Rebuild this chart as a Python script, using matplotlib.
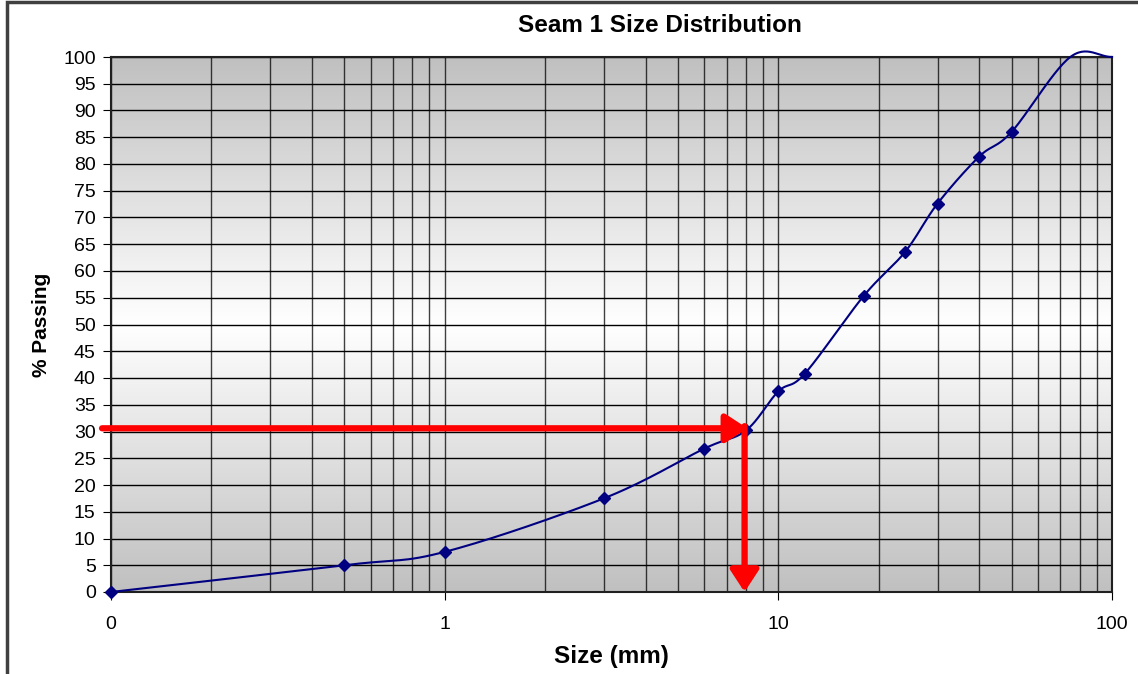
import numpy as np
import matplotlib
matplotlib.use("Agg")
import matplotlib.pyplot as plt
from matplotlib.patches import Rectangle

plt.rcParams['font.family'] = ['Liberation Sans', 'DejaVu Sans']

# Seam 1 size distribution
size_mm = [0.1, 0.5, 1, 3, 6, 8, 10, 12, 18, 24, 30, 40, 50]
passing = [0, 5, 7.5, 17.5, 26.8, 30.2, 37.5, 40.8, 55.3, 63.6, 72.6, 81.4, 86]
# tail of the curve, drawn without markers
tail_size = [75, 100]
tail_pass = [100, 100]

x_ticks = [0.1, 1, 10, 100]
x_ticklabels = ["0", "1", "10", "100"]
y_ticks = list(range(0, 101, 5))

# read-off point (red arrows)
d30_size = 8.0
d30_pass = 30.6

navy = "#000080"


def smooth(xs, ys, n=30):
    # Excel-style smoothed line (Catmull-Rom in log-x space)
    lx = np.log10(xs)
    ly = np.array(ys, dtype=float)
    px = np.concatenate([[2 * lx[0] - lx[1]], lx, [2 * lx[-1] - lx[-2]]])
    py = np.concatenate([[2 * ly[0] - ly[1]], ly, [2 * ly[-1] - ly[-2]]])
    outx, outy = [], []
    for i in range(1, len(px) - 2):
        t = np.linspace(0, 1, n)
        for arr, out in ((px, outx), (py, outy)):
            p0, p1, p2, p3 = arr[i - 1], arr[i], arr[i + 1], arr[i + 2]
            out.extend(0.5 * ((2 * p1) + (-p0 + p2) * t +
                              (2 * p0 - 5 * p1 + 4 * p2 - p3) * t ** 2 +
                              (-p0 + 3 * p1 - 3 * p2 + p3) * t ** 3))
    return 10 ** np.array(outx), np.array(outy)


fig = plt.figure(figsize=(11.38, 6.74), dpi=100)
rect = [111 / 1138, 1 - 592 / 674, (1112 - 111) / 1138, (592 - 57) / 674]

# gray-white-gray gradient background on its own linear axes
ax_bg = fig.add_axes(rect, zorder=0)
t = np.linspace(0, 1, 256)
shade = 0.753 + (1 - 0.753) * (1 - np.abs(2 * t - 1))
col = np.repeat(shade[:, None], 2, axis=1)
grad = np.dstack([col, col, col])
ax_bg.imshow(grad, extent=[0, 1, 0, 1], aspect="auto", interpolation="bilinear")
ax_bg.set_axis_off()

ax = fig.add_axes(rect, zorder=1)
ax.patch.set_visible(False)

ax.set_xscale("log")
ax.set_xlim(0.1, 100)
ax.set_ylim(0, 100)

ax.set_xticks(x_ticks)
ax.set_xticklabels(x_ticklabels)
ax.xaxis.set_minor_locator(matplotlib.ticker.LogLocator(subs=np.arange(2, 10)))
ax.xaxis.set_minor_formatter(matplotlib.ticker.NullFormatter())
ax.set_yticks(y_ticks)

ax.grid(True, which="both", axis="x", color="black", lw=1.0, alpha=0.75)
ax.grid(True, which="major", axis="y", color="black", lw=1.0)
ax.set_axisbelow(True)

ax.tick_params(axis="x", which="major", direction="out", length=6, pad=11, labelsize=14)
ax.tick_params(axis="x", which="minor", length=0)
ax.tick_params(axis="y", direction="out", length=6, pad=5, labelsize=14)
for sp in ax.spines.values():
    sp.set_color("#202020")
    sp.set_linewidth(1.5)

cx, cy = smooth(size_mm + tail_size, passing + tail_pass)
ax.plot(cx, cy, color=navy, lw=1.5, zorder=3, clip_on=False)
ax.plot(size_mm, passing, ls="none", marker="D", ms=6, color=navy, zorder=4,
        clip_on=False)

# red arrows
arrow = dict(arrowstyle="-|>,head_length=1.3,head_width=0.85", color="red", lw=4.5,
             shrinkA=0, shrinkB=0)
ax.annotate("", xy=(d30_size * 1.01, d30_pass), xytext=(0.094, d30_pass),
            arrowprops=arrow, annotation_clip=False, zorder=5)
ax.annotate("", xy=(d30_size * 0.99, 0), xytext=(d30_size * 0.99, d30_pass + 0.4),
            arrowprops=arrow, annotation_clip=False, zorder=5)

ax.set_xlabel("Size (mm)", fontsize=17.5, fontweight="bold", labelpad=9)
ax.set_ylabel("% Passing", fontsize=15, fontweight="bold", labelpad=9)
fig.text(660 / 1138, 1 - 26 / 674, "Seam 1 Size Distribution", ha="center", va="center",
         fontsize=17.5, fontweight="bold")

# chart frame
fig.patches.append(Rectangle((7 / 1138, -0.1), 1.2, 1 - 2 / 674 + 0.1,
                             transform=fig.transFigure, fill=False,
                             edgecolor="#404040", lw=2.5))

fig.savefig("out.png", dpi=100)
